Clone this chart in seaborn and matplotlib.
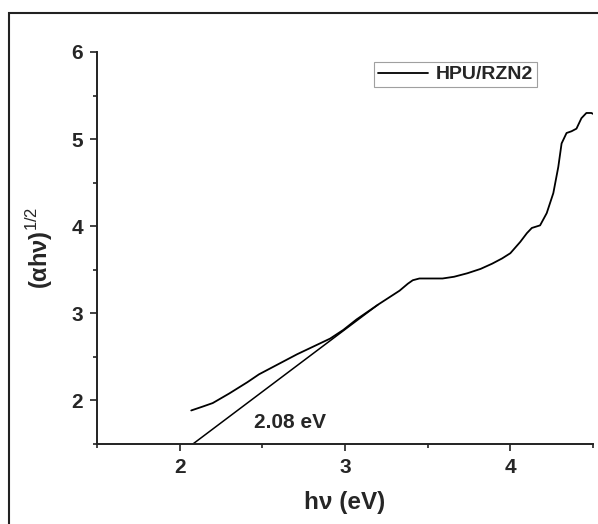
import matplotlib
matplotlib.use("Agg")
import matplotlib.pyplot as plt
import seaborn as sns
import pandas as pd
from matplotlib.patches import Rectangle
from matplotlib.ticker import MultipleLocator

# Data
hv = [2.07, 2.14, 2.20, 2.30, 2.41, 2.48, 2.61, 2.71, 2.81, 2.91, 2.99, 3.07,
      3.20, 3.33, 3.38, 3.41, 3.45, 3.52, 3.59, 3.66, 3.74, 3.82, 3.89, 3.95,
      4.00, 4.06, 4.10, 4.13, 4.18, 4.22, 4.26, 4.29, 4.31, 4.34, 4.37, 4.40,
      4.43, 4.46, 4.49, 4.50]
ahv = [1.885, 1.93, 1.97, 2.08, 2.21, 2.30, 2.43, 2.53, 2.62, 2.71, 2.81, 2.93,
       3.10, 3.26, 3.34, 3.38, 3.40, 3.40, 3.40, 3.42, 3.46, 3.51, 3.57, 3.63,
       3.69, 3.82, 3.92, 3.98, 4.01, 4.15, 4.38, 4.68, 4.95, 5.07, 5.09, 5.12,
       5.24, 5.30, 5.30, 5.29]
fit_x = [2.08, 3.20]
fit_y = [1.50, 3.10]
series_name = "HPU/RZN2"
gap_label = "2.08 eV"

df = pd.DataFrame({"hv": hv, "val": ahv, "series": series_name})
fit_df = pd.DataFrame({"hv": fit_x, "val": fit_y})

sns.set_theme(style="white")
plt.rcParams["font.family"] = ["Liberation Sans", "DejaVu Sans"]
plt.rcParams["mathtext.fontset"] = "custom"
plt.rcParams["mathtext.rm"] = "Liberation Sans"
plt.rcParams["mathtext.bf"] = "Liberation Sans:bold"

fig = plt.figure(figsize=(5.98, 5.24), dpi=100)
ax = fig.add_axes([97/598, 1-444/524, (593-97)/598, (444-52)/524])

sns.lineplot(data=df, x="hv", y="val", hue="series", palette=["black"],
             linewidth=1.3, ax=ax, sort=False)
sns.lineplot(data=fit_df, x="hv", y="val", color="black", linewidth=1.1,
             ax=ax, legend=False)

ax.set_xlim(1.5, 4.5)
ax.set_ylim(1.5, 6.0)
ax.xaxis.set_minor_locator(MultipleLocator(0.5))
ax.yaxis.set_minor_locator(MultipleLocator(0.5))
ax.set_xticks([2, 3, 4])
ax.set_yticks([2, 3, 4, 5, 6])

for s in ["top", "right"]:
    ax.spines[s].set_visible(False)
for s in ["left", "bottom"]:
    ax.spines[s].set_color("#222222")
    ax.spines[s].set_linewidth(1.4)

ax.tick_params(axis="both", which="major", direction="out", length=5, width=1.2,
               color="#222222", labelsize=15, pad=5, bottom=True, left=True)
ax.tick_params(axis="both", which="minor", direction="out", length=3, width=1.2,
               color="#222222", bottom=True, left=True)
for lab in ax.get_xticklabels() + ax.get_yticklabels():
    lab.set_fontweight("bold")

ax.set_xlabel("h\u03bd (eV)", fontsize=17.5, fontweight="bold", labelpad=10)
ax.set_ylabel(r"($\mathbf{\alpha h\nu}$)$^{\mathrm{1/2}}$", fontsize=17,
              fontweight="bold", labelpad=12)

ax.text(2.67, 1.75, gap_label, fontsize=15, fontweight="bold",
        ha="center", va="center")

leg = ax.legend(loc="upper left", bbox_to_anchor=((374-97)/496, 1-(62-52)/392),
                frameon=True, fancybox=False, fontsize=14, handlelength=2.6,
                borderpad=0.2, handletextpad=0.4, borderaxespad=0)
leg.get_frame().set_edgecolor("#888888")
leg.get_frame().set_linewidth(0.8)
for t in leg.get_texts():
    t.set_fontweight("bold")

fig.patches.append(Rectangle((9/598, -0.1), 1.2, (524-13)/524 + 0.1,
                             transform=fig.transFigure, fill=False,
                             edgecolor="#222222", linewidth=1.5))

fig.savefig("out.png", dpi=100)
